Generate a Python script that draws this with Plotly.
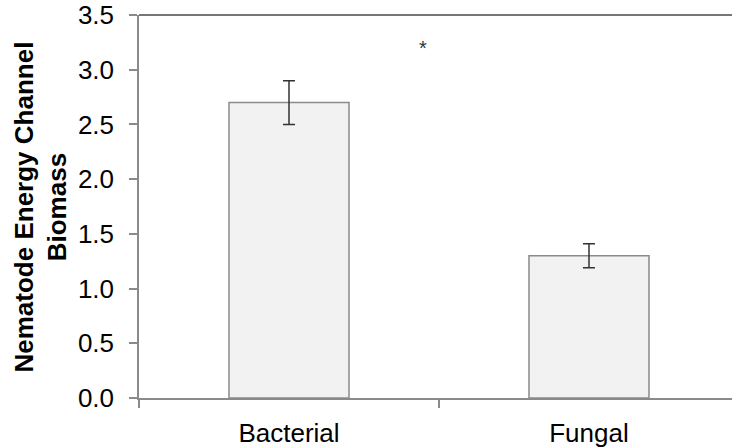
import plotly.graph_objects as go

categories = ["Bacterial", "Fungal"]
biomass = [2.7, 1.3]
errors = [0.2, 0.11]
y_ticks = [0.0, 0.5, 1.0, 1.5, 2.0, 2.5, 3.0, 3.5]
y_tick_labels = ["0.0", "0.5", "1.0", "1.5", "2.0", "2.5", "3.0", "3.5"]
sig_label = "*"
sig_pos = (0.448, 3.2)

FONT = "Liberation Sans, Arial, sans-serif"
AX = "#8a8a8a"

fig = go.Figure()
fig.add_trace(go.Bar(
    x=categories, y=biomass, width=0.4,
    marker=dict(color="#f2f2f2", line=dict(color="#8a8a8a", width=1.5)),
    error_y=dict(type="data", array=errors, visible=True,
                 color="#333333", thickness=1.5, width=6),
    showlegend=False,
))

fig.add_annotation(x=sig_pos[0], y=sig_pos[1], xref="x", yref="y",
                   text=sig_label, showarrow=False,
                   font=dict(family=FONT, size=20, color="#333333"))

fig.add_annotation(
    xref="paper", yref="paper",
    x=(40 - 139) / 593, y=0.5, xanchor="center", yanchor="middle",
    text="<b>Nematode Energy Channel<br>Biomass</b>",
    textangle=-90, showarrow=False,
    font=dict(family=FONT, size=26, color="#000000"),
    align="center",
)

# dark plot-area border along the top
fig.add_shape(type="line", xref="paper", yref="paper",
              x0=0, x1=1, y0=1, y1=1,
              line=dict(color="#4a4a4a", width=1.5))

fig.update_layout(
    width=732, height=448,
    margin=dict(l=139, r=0, t=13, b=50, pad=0),
    paper_bgcolor="white", plot_bgcolor="white",
    font=dict(family=FONT, size=26, color="#000000"),
    xaxis=dict(
        type="category", range=[-0.5, 1.4767],
        tickson="boundaries", ticks="outside", ticklen=8,
        tickcolor=AX, tickwidth=1.5,
        showline=True, linecolor=AX, linewidth=1.5,
        showgrid=False, zeroline=False,
        tickfont=dict(family=FONT, size=26, color="#000000"),
        ticklabelstandoff=11,
    ),
    yaxis=dict(
        range=[0, 3.5], tickvals=y_ticks, ticktext=y_tick_labels,
        ticks="outside", ticklen=8, tickcolor=AX, tickwidth=1.5,
        showline=True, linecolor=AX, linewidth=1.5,
        showgrid=False, zeroline=False,
        tickfont=dict(family=FONT, size=26, color="#000000"),
        ticklabelstandoff=10, ticklabeloverflow="allow",
    ),
)

fig.write_html("out.html")
